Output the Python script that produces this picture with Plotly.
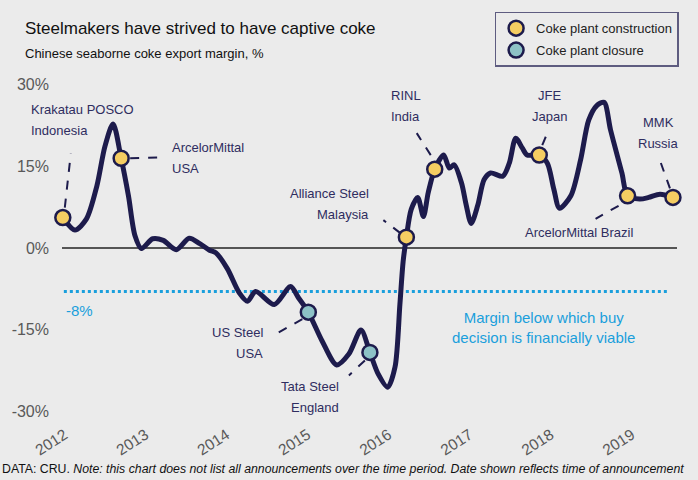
import plotly.graph_objects as go

# ---- data -------------------------------------------------------------
margin_year = [2011.93, 2012.08, 2012.22, 2012.35, 2012.45, 2012.55, 2012.65, 2012.74, 2012.82,
               2012.90, 2013.04, 2013.17, 2013.33, 2013.49, 2013.62, 2013.74, 2013.82, 2013.96,
               2014.11, 2014.21, 2014.31, 2014.54, 2014.74, 2014.84, 2014.96, 2015.13, 2015.31,
               2015.46, 2015.61, 2015.72, 2015.82, 2015.94, 2016.03, 2016.09, 2016.13, 2016.17,
               2016.23, 2016.31, 2016.38, 2016.44, 2016.52, 2016.63, 2016.70, 2016.76, 2016.85,
               2016.91, 2016.97, 2017.05, 2017.13, 2017.21, 2017.36, 2017.44, 2017.52, 2017.60,
               2017.66, 2017.81, 2017.91, 2017.99, 2018.06, 2018.20, 2018.32, 2018.42, 2018.52,
               2018.61, 2018.69, 2018.83, 2018.90, 2019.05, 2019.16, 2019.30, 2019.46]
margin_pct = [5.6, 3.3, 5.3, 11.4, 18.7, 22.8, 16.5, 9.6, 2.3,
              -0.1, 1.7, 1.4, -0.3, 1.8, 0.8, -0.4, -0.9, -3.8,
              -8.3, -9.8, -8.0, -10.4, -7.1, -9.2, -11.8, -17.1, -21.5,
              -19.5, -15.1, -19.2, -23.1, -25.6, -21.9, -10.4, -2.5, 2.0,
              7.1, 9.3, 5.8, 10.2, 14.5, 17.1, 14.7, 15.3, 12.0,
              7.8, 4.5, 7.8, 12.6, 13.8, 13.2, 15.6, 20.2, 18.4,
              17.1, 17.1, 15.6, 10.8, 7.3, 9.6, 16.2, 23.5, 26.2,
              26.8, 21.7, 13.8, 9.6, 9.0, 9.3, 9.9, 9.3]

# coke plant construction announcements
build_names = ["Krakatau POSCO|Indonesia", "ArcelorMittal|USA", "Alliance Steel|Malaysia",
               "RINL|India", "JFE|Japan", "ArcelorMittal Brazil", "MMK|Russia"]
build_year = [2011.93, 2012.65, 2016.17, 2016.52, 2017.81, 2018.90, 2019.46]
build_pct = [5.6, 16.5, 2.0, 14.5, 17.1, 9.6, 9.3]

# coke plant closure announcements
close_names = ["US Steel|USA", "Tata Steel|England"]
close_year = [2014.96, 2015.72]
close_pct = [-11.8, -19.2]

threshold = -8
year_ticks = [2012, 2013, 2014, 2015, 2016, 2017, 2018, 2019]
pct_ticks = [-30, -15, 0, 15, 30]
pct_labels = ["-30%", "-15%", "0%", "15%", "30%"]

# ---- styles -----------------------------------------------------------
BG = "#ebebeb"
NAVY = "#1d1b4c"
LABEL = "#2f2d60"
YELLOW = "#f5cd62"
TEAL = "#8dc2c6"
BLUE = "#1a9fdc"
FONT = "Liberation Sans, Arial, sans-serif"

W, H = 698, 480
PL, PR, PT, PB = 60, 21, 70, 58
PW, PH = W - PL - PR, H - PT - PB


def px_to_paper(px, py):
    return (px - PL) / PW, (H - PB - py) / PH


# label placement (pixel offsets from the event marker): dx, dy of first line, anchor
build_label_pos = [(-34, 108, "left"), (49, 11, "left"), (-35, 44, "right"),
                   (-29, 74, "center"), (10, 60, "center"), (-49, -37, "center"), (-14, 75, "center")]
build_leader = [(2, 10, 8, 64), (9, 0, 39, 1), (-6, 4, -23, 17), (-4, 14, -18, 36),
                (3, 10, 9, 24), (-9, -10, -32, -23), (-3, 9, -13, 37)]
close_label_pos = [(-43, -20, "right"), (-29, -34, "right")]
close_leader = [(-6, -7, -31, -21), (-5, -8, -21, -23)]
LINE_GAP = 21

fig = go.Figure()

fig.add_trace(go.Scatter(
    x=margin_year, y=margin_pct, mode="lines",
    line=dict(color=NAVY, width=5, shape="spline", smoothing=0.8),
    showlegend=False, hoverinfo="skip"))

fig.add_trace(go.Scatter(
    x=build_year, y=build_pct, mode="markers", name="Coke plant construction",
    legendgroup="a", cliponaxis=False,
    marker=dict(size=15, color=YELLOW, line=dict(color=NAVY, width=2.5))))

fig.add_trace(go.Scatter(
    x=close_year, y=close_pct, mode="markers", name="Coke plant closure",
    legendgroup="b", cliponaxis=False,
    marker=dict(size=15, color=TEAL, line=dict(color=NAVY, width=2.5))))

annotations = []
shapes = []


def add_labels(names, xs, ys, pos, leaders):
    for name, xv, yv, (dx, dy, anc), (a, b, c, d) in zip(names, xs, ys, pos, leaders):
        for i, part in enumerate(name.split("|")):
            annotations.append(dict(
                x=xv, y=yv, xref="x", yref="y", text=part, showarrow=False,
                xanchor=anc, yanchor="middle", xshift=dx, yshift=dy - i * LINE_GAP,
                font=dict(size=13, color=LABEL, family=FONT)))
        shapes.append(dict(
            type="line", xref="x", yref="y", xsizemode="pixel", ysizemode="pixel",
            xanchor=xv, yanchor=yv, x0=a, y0=b, x1=c, y1=d,
            line=dict(color=NAVY, width=2, dash="dash"), layer="below"))


add_labels(build_names, build_year, build_pct, build_label_pos, build_leader)
add_labels(close_names, close_year, close_pct, close_label_pos, close_leader)

# threshold line
shapes.append(dict(type="line", xref="paper", yref="y", x0=0.003, x1=0.985,
                   y0=threshold, y1=threshold,
                   line=dict(color=BLUE, width=3, dash="dot"), layer="below"))

tx, ty = px_to_paper(21, 24)
sx, sy = px_to_paper(21, 49)
fx, fy = px_to_paper(-2, 470)
lx, ly = px_to_paper(494, 7)

annotations += [
    dict(x=0, y=threshold, xref="paper", yref="y", text=f"{threshold}%", showarrow=False,
         xanchor="left", yanchor="middle", xshift=2, yshift=-19,
         font=dict(size=15, color=BLUE, family=FONT)),
    dict(x=0.783, y=threshold, xref="paper", yref="y",
         text="Margin below which buy<br>decision is financially viable", showarrow=False,
         xanchor="center", yanchor="middle", yshift=-36,
         font=dict(size=15, color=BLUE, family=FONT)),
    dict(x=tx, y=ty, xref="paper", yref="paper",
         text="Steelmakers have strived to have captive coke", showarrow=False,
         xanchor="left", yanchor="middle", font=dict(size=17, color="#111111", family=FONT)),
    dict(x=sx, y=sy, xref="paper", yref="paper",
         text="Chinese seaborne coke export margin, %", showarrow=False,
         xanchor="left", yanchor="middle", font=dict(size=13, color="#111111", family=FONT)),
    dict(x=fx, y=fy, xref="paper", yref="paper",
         text="DATA: CRU. <i>Note: this chart does not list all announcements over the time period. "
              "Date shown reflects time of announcement</i>",
         showarrow=False, xanchor="left", yanchor="middle",
         font=dict(size=12.3, color="#111111", family=FONT)),
]

fig.update_layout(
    width=W, height=H,
    margin=dict(l=PL, r=PR, t=PT, b=PB),
    paper_bgcolor=BG, plot_bgcolor=BG,
    font=dict(family=FONT),
    showlegend=True,
    legend=dict(x=lx, y=ly, xanchor="left", yanchor="top",
                bgcolor=BG, bordercolor="#5e5c80", borderwidth=1.5,
                font=dict(size=13, color="#222222", family=FONT),
                tracegroupgap=2, itemwidth=30),
    xaxis=dict(range=[2011.92, 2019.51], tickvals=year_ticks, tickangle=-33,
               showgrid=False, zeroline=False, showline=False, ticks="",
               ticklabelshift=-4,
               tickfont=dict(size=15.5, color="#595959", family=FONT)),
    yaxis=dict(range=[-32, 32], tickvals=pct_ticks, ticktext=pct_labels,
               showgrid=False, zeroline=True, zerolinecolor="#555555", zerolinewidth=1.5,
               showline=False, ticks="", ticklabelstandoff=12,
               tickfont=dict(size=16, color="#595959", family=FONT)),
    annotations=annotations,
    shapes=shapes,
)

fig.write_html("out.html", config={"displayModeBar": False},
               post_script="document.body.style.margin='0px';")
